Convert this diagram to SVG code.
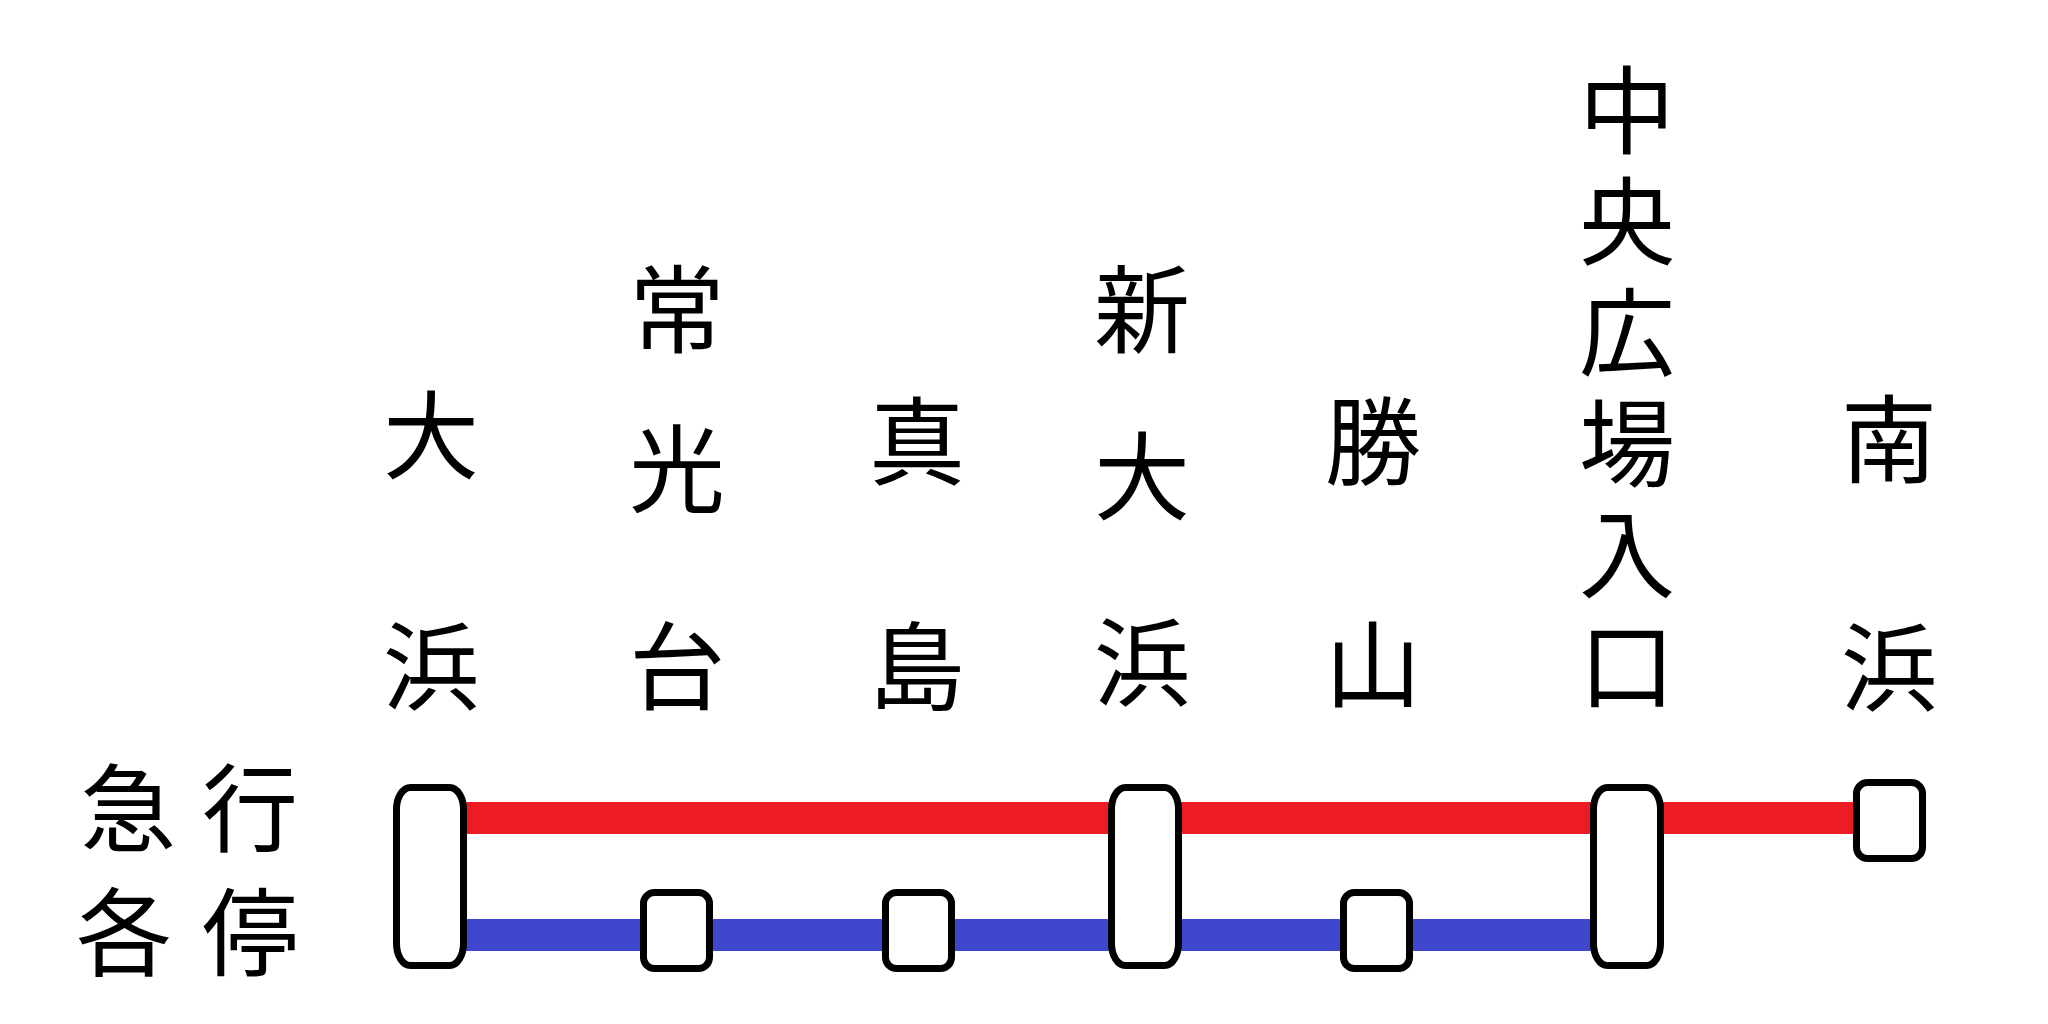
<svg xmlns="http://www.w3.org/2000/svg" width="2048" height="1024" viewBox="0 0 2048 1024">
<style>
.t{font-family:"Noto Sans CJK JP","Noto Sans CJK SC",sans-serif;font-size:96px;fill:#000;text-anchor:middle}
.v{font-family:"Noto Sans CJK JP","Noto Sans CJK SC",sans-serif;font-size:96px;fill:#000;writing-mode:vertical-rl;text-anchor:start}
.box{fill:#fff;stroke:#000;stroke-width:7}
.exp{stroke:#ED1C24;stroke-width:32;fill:none}
.loc{stroke:#3F48CC;stroke-width:32;fill:none}
</style>
<rect width="2048" height="1024" fill="#fff"/>
<g id="legend">
<text class="t"><tspan x="128 250" y="844">急行</tspan><tspan x="124 250" y="968">各停</tspan></text>
</g>
<g id="connectors">
<line class="exp" x1="430" y1="818" x2="1890" y2="818"/>
<line class="loc" x1="430" y1="935" x2="1627" y2="935"/>
</g>
<g id="st-oohama">
<rect class="box" x="396.5" y="787.5" width="67" height="178" rx="14" ry="22"/>
<text class="t" x="431" y="471">大</text>
<text class="t" x="431" y="702">浜</text>
</g>
<g id="st-joukoudai">
<rect class="box" x="643.5" y="892.5" width="66" height="76" rx="11"/>
<text class="t" x="677" y="345">常</text>
<text class="t" x="677" y="505">光</text>
<text class="t" x="677" y="702">台</text>
</g>
<g id="st-majima">
<rect class="box" x="885.5" y="892.5" width="66" height="76" rx="11"/>
<text class="t" x="917" y="477">真</text>
<text class="t" x="917" y="702">島</text>
</g>
<g id="st-shinoohama">
<rect class="box" x="1111.5" y="787.5" width="67" height="178" rx="14" ry="22"/>
<text class="t" x="1142" y="345">新</text>
<text class="t" x="1142" y="512">大</text>
<text class="t" x="1142" y="698">浜</text>
</g>
<g id="st-katsuyama">
<rect class="box" x="1343.5" y="892.5" width="66" height="76" rx="11"/>
<text class="t" x="1373" y="477">勝</text>
<text class="t" x="1373" y="700">山</text>
</g>
<g id="st-chuouhiroba">
<rect class="box" x="1593.5" y="787.5" width="67" height="178" rx="14" ry="22"/>
<text class="v" x="1627" y="62" letter-spacing="15">中央広場入口</text>
</g>
<g id="st-minamihama">
<rect class="box" x="1856.5" y="782.5" width="66" height="76" rx="11"/>
<text class="t" x="1889" y="475">南</text>
<text class="t" x="1889" y="703">浜</text>
</g>
</svg>
